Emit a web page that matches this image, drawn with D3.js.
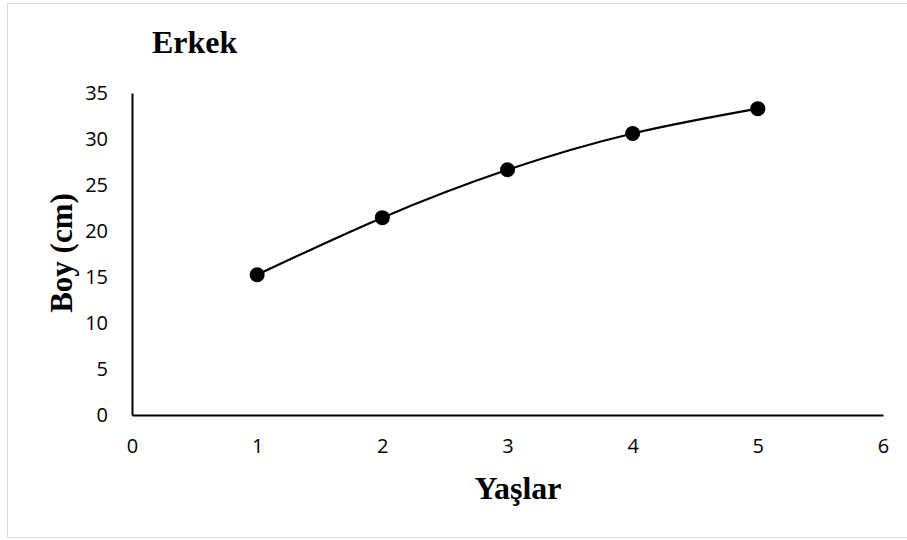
<!DOCTYPE html>
<html>
<head>
<meta charset="utf-8">
<script src="https://cdn.jsdelivr.net/npm/d3@7/dist/d3.min.js"></script>
<style>
  html, body { margin: 0; padding: 0; background: #fff; }
  svg { display: block; }
</style>
</head>
<body>
<svg id="chart" width="907" height="540"></svg>
<script>
// Data
const ages = [1, 2, 3, 4, 5];
const heights = [15.25, 21.45, 26.65, 30.6, 33.3];
const xTicks = [0, 1, 2, 3, 4, 5, 6];
const yTicks = [0, 5, 10, 15, 20, 25, 30, 35];
const title = "Erkek";
const xLabel = "Yaşlar";
const yLabel = "Boy (cm)";

const svg = d3.select("#chart");

// frame
svg.append("rect")
  .attr("x", 7.5).attr("y", 3.5)
  .attr("width", 905).attr("height", 534)
  .attr("fill", "#fff").attr("stroke", "#d9d9d9").attr("stroke-width", 1);

const x = d3.scaleLinear().domain([0, 6]).range([132, 883]);
const y = d3.scaleLinear().domain([0, 35]).range([415, 93]);

const tickFont = "'Open Sans', 'Liberation Sans', sans-serif";
const serif = "'Liberation Serif', 'DejaVu Serif', serif";

// x axis
const xAxis = svg.append("g")
  .attr("transform", `translate(0,${y(0)})`)
  .call(d3.axisBottom(x).tickValues(xTicks).tickSize(0).tickPadding(24).tickFormat(d3.format("d")));
xAxis.select(".domain").attr("stroke", "#000").attr("stroke-width", 2);
xAxis.selectAll("text").attr("font-family", tickFont).attr("font-size", 20).attr("fill", "#000");

// y axis
const yAxis = svg.append("g")
  .attr("transform", `translate(${x(0)},0)`)
  .call(d3.axisLeft(y).tickValues(yTicks).tickSize(0).tickPadding(24).tickFormat(d3.format("d")));
yAxis.select(".domain").attr("stroke", "#000").attr("stroke-width", 2);
yAxis.selectAll("text").attr("font-family", tickFont).attr("font-size", 20).attr("fill", "#000");

// trend line
const pts = ages.map((a, i) => [a, heights[i]]);
const line = d3.line().x(d => x(d[0])).y(d => y(d[1])).curve(d3.curveNatural);
svg.append("path")
  .datum(pts)
  .attr("d", line)
  .attr("fill", "none")
  .attr("stroke", "#000")
  .attr("stroke-width", 2.2);

// points
svg.selectAll("circle.pt")
  .data(pts)
  .enter().append("circle")
  .attr("class", "pt")
  .attr("cx", d => x(d[0]))
  .attr("cy", d => y(d[1]))
  .attr("r", 7.5)
  .attr("fill", "#000");

// title
svg.append("text")
  .attr("x", 152).attr("y", 53)
  .attr("font-family", serif).attr("font-weight", "bold").attr("font-size", 32)
  .attr("fill", "#000")
  .text(title);

// x label
svg.append("text")
  .attr("x", 518).attr("y", 499)
  .attr("text-anchor", "middle")
  .attr("font-family", serif).attr("font-weight", "bold").attr("font-size", 32)
  .attr("fill", "#000")
  .text(xLabel);

// y label
svg.append("text")
  .attr("transform", `translate(72,253) rotate(-90)`)
  .attr("text-anchor", "middle")
  .attr("font-family", serif).attr("font-weight", "bold").attr("font-size", 31)
  .attr("fill", "#000")
  .text(yLabel);
</script>
</body>
</html>
